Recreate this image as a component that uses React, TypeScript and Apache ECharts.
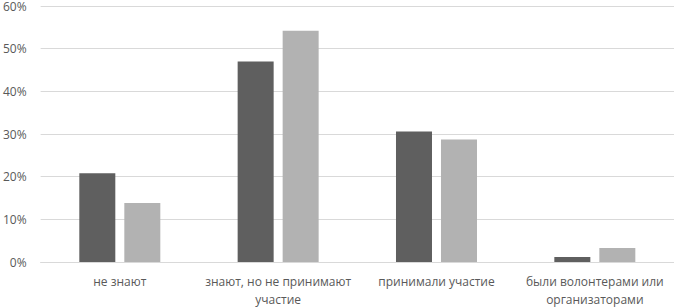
import React, { useEffect, useRef } from "react";
import * as echarts from "echarts";

const categories = [
  "не знают",
  "знают, но не принимают\nучастие",
  "принимали участие",
  "были волонтерами или\nорганизаторами",
];
const seriesA = [20.8, 47.0, 30.6, 1.2];
const seriesB = [13.8, 54.2, 28.7, 3.3];

export default function App() {
  const ref = useRef<HTMLDivElement>(null);
  useEffect(() => {
    document.body.style.margin = "0";
    const chart = echarts.init(ref.current!, null, { renderer: "svg" });
    const font = "'Open Sans', sans-serif";
    chart.setOption({
      animation: false,
      grid: { left: 40, right: 0, top: 5, bottom: 46, containLabel: false },
      xAxis: {
        type: "category",
        data: categories,
        axisLine: { show: true, lineStyle: { color: "#d9d9d9", width: 1 } },
        axisTick: { show: false },
        axisLabel: {
          color: "#595959",
          fontFamily: font,
          fontSize: 12,
          lineHeight: 18,
          margin: 10,
          interval: 0,
        },
      },
      yAxis: {
        type: "value",
        min: 0,
        max: 60,
        interval: 10,
        axisLine: { show: false },
        axisTick: { show: false },
        splitLine: { lineStyle: { color: "#d9d9d9", width: 1 } },
        axisLabel: {
          color: "#595959",
          fontFamily: font,
          fontSize: 12,
          margin: 14,
          formatter: (v: number) => v + "%",
        },
      },
      series: [
        {
          type: "bar",
          data: seriesA,
          barWidth: 36,
          barGap: "25%",
          itemStyle: { color: "#5f5f5f" },
        },
        {
          type: "bar",
          data: seriesB,
          barWidth: 36,
          barGap: "25%",
          itemStyle: { color: "#b2b2b2" },
        },
      ],
    });
    return () => chart.dispose();
  }, []);
  return <div ref={ref} style={{ width: 674, height: 308 }} />;
}
